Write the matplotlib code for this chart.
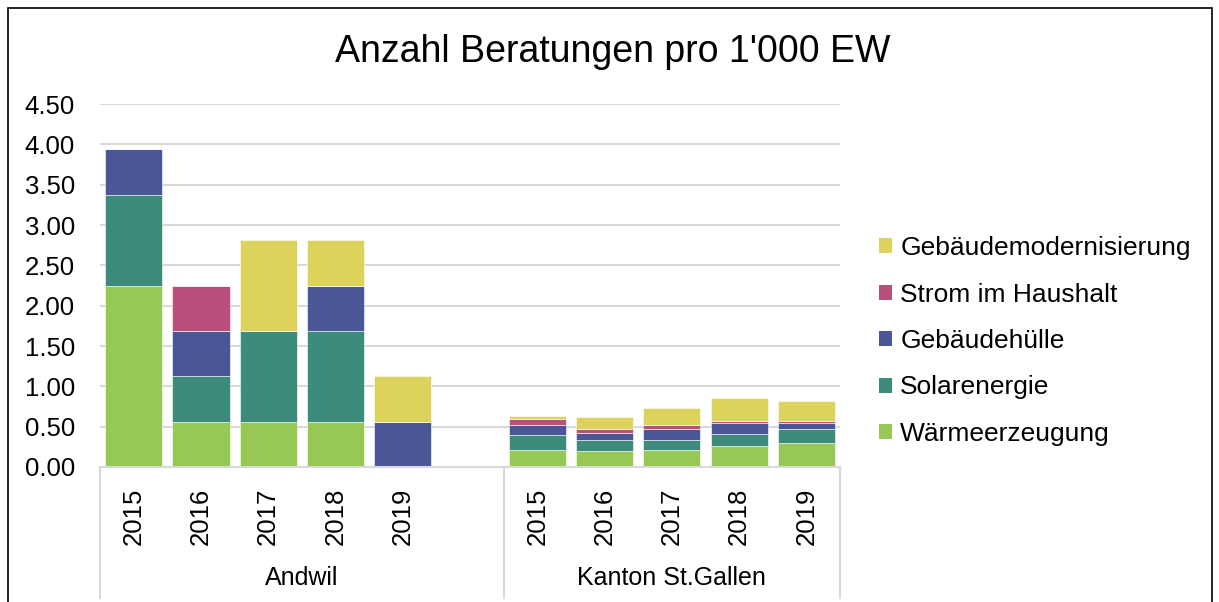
import matplotlib
matplotlib.use("Agg")
import matplotlib.pyplot as plt
from matplotlib.patches import Rectangle, Patch
import numpy as np

plt.rcParams['font.family'] = ['Liberation Sans', 'DejaVu Sans']

title = "Anzahl Beratungen pro 1'000 EW"
groups = ["Andwil", "Kanton St.Gallen"]
years = ["2015", "2016", "2017", "2018", "2019"]
series = ["Wärmeerzeugung", "Solarenergie", "Gebäudehülle", "Strom im Haushalt", "Gebäudemodernisierung"]
colors = ["#97C755", "#3C8B7B", "#4B5696", "#B9507B", "#DBD35B"]

# Andwil (2015..2019)
andwil_waerme = [2.25, 0.5625, 0.5625, 0.5625, 0.0]
andwil_solar = [1.125, 0.5625, 1.125, 1.125, 0.0]
andwil_huelle = [0.5625, 0.5625, 0.0, 0.5625, 0.5625]
andwil_strom = [0.0, 0.5625, 0.0, 0.0, 0.0]
andwil_modern = [0.0, 0.0, 1.125, 0.5625, 0.5625]

# Kanton St.Gallen (2015..2019)
sg_waerme = [0.21, 0.20, 0.21, 0.26, 0.30]
sg_solar = [0.19, 0.13, 0.13, 0.15, 0.165]
sg_huelle = [0.12, 0.09, 0.13, 0.13, 0.075]
sg_strom = [0.07, 0.05, 0.05, 0.03, 0.025]
sg_modern = [0.04, 0.15, 0.21, 0.28, 0.25]

data = {
    "Andwil": [andwil_waerme, andwil_solar, andwil_huelle, andwil_strom, andwil_modern],
    "Kanton St.Gallen": [sg_waerme, sg_solar, sg_huelle, sg_strom, sg_modern],
}

W, H = 1219, 602
fig = plt.figure(figsize=(W / 100, H / 100), dpi=100)
ax = fig.add_axes([100 / W, 1 - 467 / H, 740 / W, 363 / H])

grid_c = "#D9D9D9"
n_slots = 11
for gi, g in enumerate(groups):
    xs = np.arange(5) + gi * 6
    bottom = np.zeros(5)
    for si, vals in enumerate(data[g]):
        v = np.array(vals)
        ax.bar(xs, v, bottom=bottom, width=0.85, color=colors[si], zorder=3,
               edgecolor='white', linewidth=0.4)
        bottom += v

ax.set_xlim(-0.5, n_slots - 0.5)
ax.set_ylim(0, 4.5)
ax.set_yticks(np.arange(0, 4.51, 0.5))
ax.set_yticklabels([f"{t:.2f}" for t in np.arange(0, 4.51, 0.5)], fontsize=18.5)
ax.tick_params(axis='y', length=0, pad=18)
ax.tick_params(axis='x', length=0)
ax.set_xticks([])
ax.yaxis.grid(True, color=grid_c, linewidth=1.5, zorder=0)
for s in ['top', 'right', 'left']:
    ax.spines[s].set_visible(False)
ax.spines['bottom'].set_color(grid_c)
ax.spines['bottom'].set_linewidth(1.5)
ax.spines['bottom'].set_zorder(4)

# category axis below
yb = -131 / 363
bounds = [(-0.5, 5.5), (5.5, n_slots - 0.5)]
for xpos in [-0.5, 5.5, n_slots - 0.5]:
    ax.plot([xpos, xpos], [0, yb], transform=ax.get_xaxis_transform(), color=grid_c,
            linewidth=1.5, clip_on=False)
for gi, g in enumerate(groups):
    for yi, y in enumerate(years):
        ax.text(yi + gi * 6, -49 / 363, y, rotation=90, ha='center', va='center',
                fontsize=18.5, transform=ax.get_xaxis_transform())
    center = 0.5 * (bounds[gi][0] + bounds[gi][1])
    ax.text(center, -111 / 363, g, ha='center', va='center', fontsize=18,
            transform=ax.get_xaxis_transform())

fig.text(0.5 * (337 + 888) / W, 1 - 52 / H, title, ha='center', va='center', fontsize=27)

handles = [Patch(facecolor=colors[i]) for i in range(len(series))][::-1]
labels = series[::-1]
fig.legend(handles, labels, loc='center left', bbox_to_anchor=(866 / W, 1 - 341 / H),
           frameon=False, fontsize=19, handlelength=0.5, handleheight=0.5,
           handletextpad=0.3, labelspacing=0.85, borderpad=0)

# frame
fig.patches.append(Rectangle((8 / W, -0.01), (1212 - 8) / W, 1 - 8 / H + 0.01,
                             transform=fig.transFigure, fill=False, edgecolor='black',
                             linewidth=1.2))

fig.savefig("out.png", dpi=100)
